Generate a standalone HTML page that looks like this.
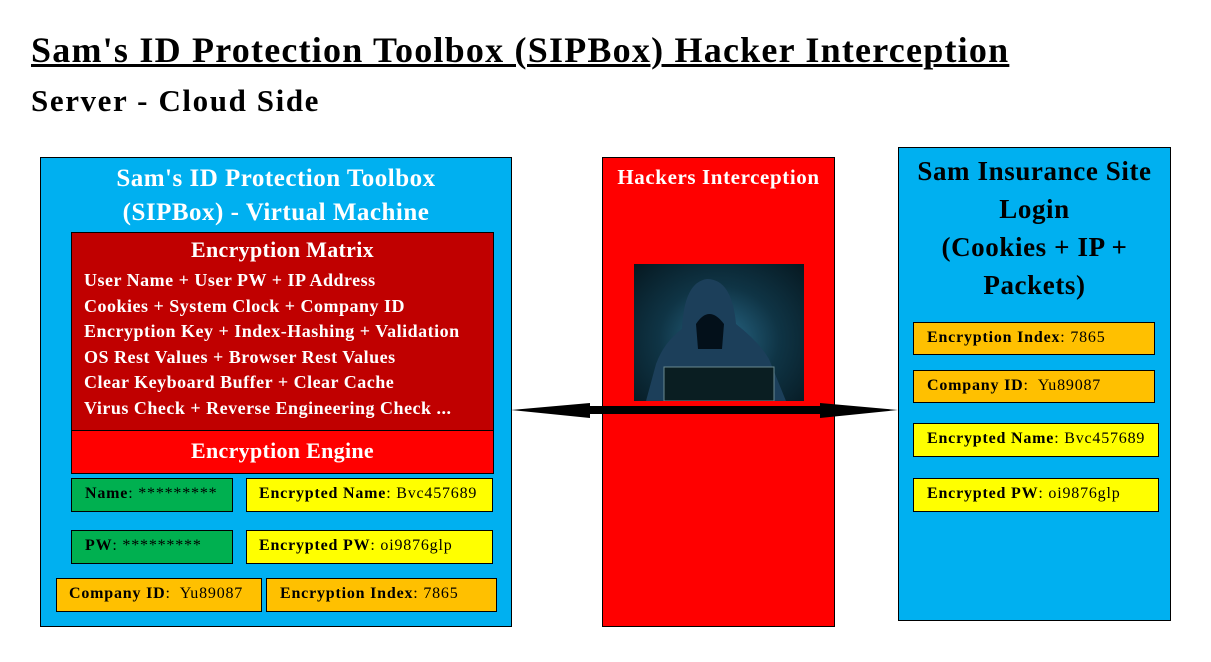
<!DOCTYPE html>
<html><head><style>
body{margin:0;width:1211px;height:662px;background:#fff;position:relative;overflow:hidden;font-family:"Liberation Serif",serif;}
.a{position:absolute;box-sizing:border-box;}
.bx{position:absolute;box-sizing:border-box;border:1.5px solid #000;font-size:16px;letter-spacing:0.8px;line-height:30px;white-space:nowrap;}
b{font-weight:bold;}
.w{color:#fff;font-weight:bold;}
</style></head><body>
<div class="a" style="left:31px;top:29px;font-size:36px;font-weight:bold;text-decoration:underline;text-decoration-thickness:3px;white-space:nowrap;letter-spacing:1.22px">Sam's ID Protection Toolbox (SIPBox) Hacker Interception</div>
<div class="a" style="left:31px;top:83px;font-size:31px;font-weight:bold;white-space:nowrap;letter-spacing:1.6px">Server - Cloud Side</div>

<div class="a" style="left:40px;top:157px;width:472px;height:470px;background:#00b0f0;border:1px solid #000"></div>
<div class="a w" style="left:40px;top:162px;width:472px;text-align:center;font-size:25px;letter-spacing:0.5px;line-height:34px">Sam's ID Protection Toolbox<br>(SIPBox) - Virtual Machine</div>
<div class="a" style="left:71px;top:232px;width:423px;height:199px;background:#c00000;border:1px solid #000"></div>
<div class="a w" style="left:71px;top:237px;width:423px;text-align:center;font-size:22px;letter-spacing:0.3px">Encryption Matrix</div>
<div class="a w" style="left:84px;top:268px;font-size:18px;letter-spacing:0.5px;line-height:25.5px;white-space:nowrap">User Name + User PW + IP Address<br>Cookies + System Clock + Company ID<br>Encryption Key + Index-Hashing + Validation<br>OS Rest Values + Browser Rest Values<br>Clear Keyboard Buffer + Clear Cache<br>Virus Check + Reverse Engineering Check ...</div>
<div class="a w" style="left:71px;top:430px;width:423px;height:44px;background:#ff0000;border:1px solid #000;text-align:center;font-size:22px;letter-spacing:0.3px;line-height:40px">Encryption Engine</div>
<div class="bx" style="left:71px;top:478px;width:162px;height:34px;background:#00b050;padding-left:13px"><b>Name</b>: *********</div>
<div class="bx" style="left:246px;top:478px;width:247px;height:34px;background:#ffff00;padding-left:12px"><b>Encrypted Name</b>: Bvc457689</div>
<div class="bx" style="left:71px;top:530px;width:162px;height:34px;background:#00b050;padding-left:13px"><b>PW</b>: *********</div>
<div class="bx" style="left:246px;top:530px;width:247px;height:34px;background:#ffff00;padding-left:12px"><b>Encrypted PW</b>: oi9876glp</div>
<div class="bx" style="left:56px;top:578px;width:206px;height:34px;background:#ffc000;padding-left:12px"><b>Company ID</b>:&nbsp; Yu89087</div>
<div class="bx" style="left:266px;top:578px;width:231px;height:34px;background:#ffc000;padding-left:13px"><b>Encryption Index</b>: 7865</div>

<div class="a" style="left:602px;top:157px;width:233px;height:470px;background:#ff0000;border:1px solid #000"></div>
<div class="a w" style="left:602px;top:165px;width:233px;text-align:center;font-size:21px;letter-spacing:0.6px">Hackers Interception</div>
<div class="a" style="left:634px;top:264px;width:170px;height:137px;background:radial-gradient(ellipse at 50% 55%,#2a6a8a 0%,#0f3445 50%,#061820 100%)">
<svg width="170" height="137" style="position:absolute;left:0;top:0">
<path d="M48 65 Q50 18 73 15 Q98 15 102 60 Q125 78 135 95 L152 137 L12 137 L22 100 Q30 78 48 65Z" fill="#1c3f5a"/>
<path d="M62 60 Q75 40 90 60 L88 85 L64 85Z" fill="#03101a"/>
<rect x="30" y="103" width="110" height="34" fill="#0a1e22" stroke="#6a8a90" stroke-width="1"/>
</svg></div>

<div class="a" style="left:898px;top:147px;width:273px;height:474px;background:#00b0f0;border:1px solid #000"></div>
<div class="a" style="left:898px;top:152px;width:273px;text-align:center;font-size:27px;letter-spacing:0.6px;font-weight:bold;line-height:38px">Sam Insurance Site<br>Login<br>(Cookies + IP +<br>Packets)</div>
<div class="bx" style="left:913px;top:322px;width:242px;height:33px;background:#ffc000;padding-left:13px"><b>Encryption Index</b>: 7865</div>
<div class="bx" style="left:913px;top:370px;width:242px;height:33px;background:#ffc000;padding-left:13px"><b>Company ID</b>:&nbsp; Yu89087</div>
<div class="bx" style="left:913px;top:423px;width:246px;height:34px;background:#ffff00;padding-left:13px"><b>Encrypted Name</b>: Bvc457689</div>
<div class="bx" style="left:913px;top:478px;width:246px;height:34px;background:#ffff00;padding-left:13px"><b>Encrypted PW</b>: oi9876glp</div>

<svg class="a" style="left:0;top:0" width="1211" height="662">
<polygon points="511,410 590,403 590,406 820,406 820,403 898,410 820,418 820,414 590,414 590,418" fill="#000"/>
</svg>
</body></html>
